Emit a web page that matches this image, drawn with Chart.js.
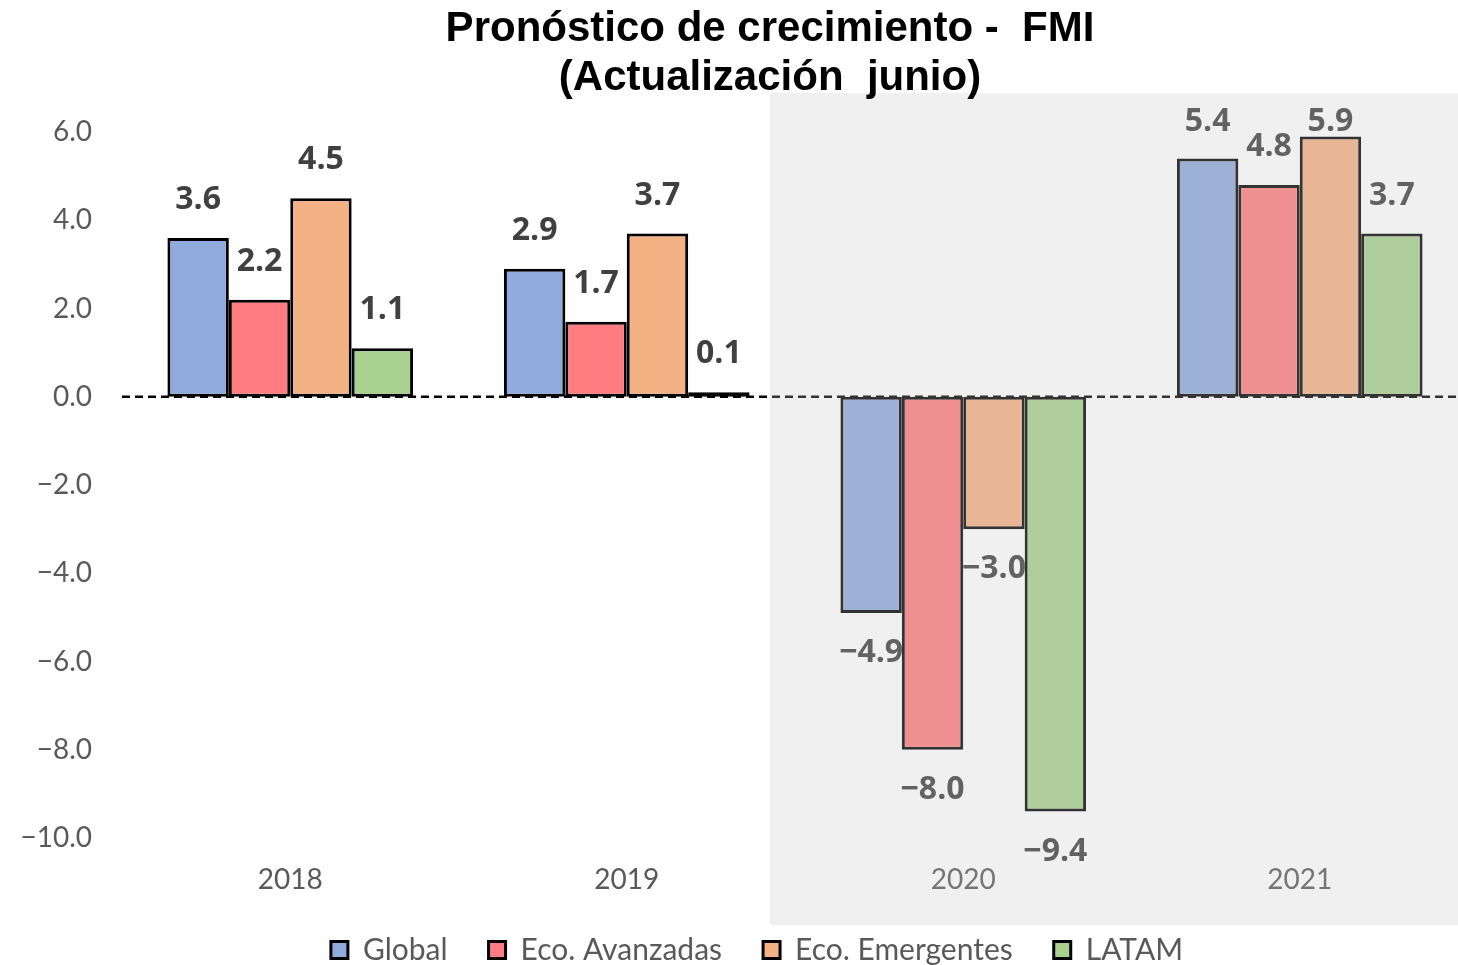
<!DOCTYPE html>
<html>
<head>
<meta charset="utf-8">
<script src="https://cdn.jsdelivr.net/npm/chart.js@4.4.0/dist/chart.umd.min.js"></script>
<style>
  html, body { margin: 0; padding: 0; background: #fff; overflow: hidden; }
  #wrap { width: 1458px; height: 965px; overflow: hidden; }
</style>
</head>
<body>
<div id="wrap"><canvas id="chart" width="1468" height="965"></canvas></div>
<script>
// datos
const years = ["2018", "2019", "2020", "2021"];
const global = [3.6, 2.9, -4.9, 5.4];
const avanzadas = [2.2, 1.7, -8.0, 4.8];
const emergentes = [4.5, 3.7, -3.0, 5.9];
const latam = [1.1, 0.1, -9.4, 3.7];
const yTicks = [-10, -8, -6, -4, -2, 0, 2, 4, 6];

const titleLines = ["Pronóstico de crecimiento -  FMI", "(Actualización  junio)"];

// formato con signo menos tipográfico
function fmt(v) {
    return (v < 0 ? "\u2212" : "") + Math.abs(v).toFixed(1);
}

// línea de cero punteada
const zeroLine = {
    id: "zeroLine",
    beforeDatasetsDraw(chart) {
        const { ctx, chartArea, scales } = chart;
        const y = scales.y.getPixelForValue(0);
        ctx.save();
        ctx.strokeStyle = "#000";
        ctx.lineWidth = 2.5;
        ctx.setLineDash([8, 5]);
        ctx.beginPath();
        ctx.moveTo(chartArea.left, y);
        ctx.lineTo(chartArea.right, y);
        ctx.stroke();
        ctx.restore();
    }
};

// etiquetas de valores
const valueLabels = {
    id: "valueLabels",
    afterDatasetsDraw(chart) {
        const ctx = chart.ctx;
        ctx.save();
        ctx.font = "bold 32px 'Open Sans'";
        ctx.fillStyle = "#404040";
        ctx.textAlign = "center";
        ctx.textBaseline = "middle";
        chart.data.datasets.forEach((ds, i) => {
            chart.getDatasetMeta(i).data.forEach((bar, j) => {
                const v = ds.data[j];
                let y = v >= 0 ? Math.max(bar.y - 38, 122) : bar.y + 40;
                ctx.fillText(fmt(v), bar.x, y);
            });
        });
        ctx.restore();
    }
};

// mover la leyenda un poco a la derecha
const legendShift = {
    id: "legendShift",
    afterLayout(chart) {
        chart.legend.left += 23;
        chart.legend.right += 23;
    }
};

// zona sombreada (proyecciones) y título
const overlay = {
    id: "overlay",
    afterDraw(chart) {
        const ctx = chart.ctx;
        ctx.save();
        ctx.fillStyle = "rgba(197,197,197,0.26)";
        ctx.fillRect(770, 93, chart.width - 770, 925 - 93);
        ctx.fillStyle = "#000";
        ctx.font = "bold 42px 'Liberation Sans'";
        ctx.textAlign = "center";
        ctx.textBaseline = "alphabetic";
        ctx.fillText(titleLines[0], 770, 41);
        ctx.fillText(titleLines[1], 770, 90);
        ctx.restore();
    }
};

function makeSet(label, data, color) {
    return {
        label: label,
        data: data,
        backgroundColor: color,
        borderColor: "#000",
        borderWidth: 3,
        borderSkipped: false,
        categoryPercentage: 0.73,
        barPercentage: 1.0
    };
}

new Chart(document.getElementById("chart"), {
    type: "bar",
    data: {
        labels: years,
        datasets: [
            makeSet("Global", global, "#8faadc"),
            makeSet("Eco. Avanzadas", avanzadas, "#ff7c80"),
            makeSet("Eco. Emergentes", emergentes, "#f4b183"),
            makeSet("LATAM", latam, "#a9d18e")
        ]
    },
    options: {
        responsive: false,
        animation: false,
        layout: { padding: { top: 132, left: 0, right: 0, bottom: -10 } },
        scales: {
            x: {
                grid: { display: false, drawTicks: false },
                border: { display: false },
                ticks: { color: "#595959", font: { family: "Lato", size: 28 }, padding: 25 },
                afterFit(scale) { scale.height = 56; }
            },
            y: {
                min: -10,
                max: 6,
                afterBuildTicks(scale) { scale.ticks = yTicks.map(v => ({ value: v })); },
                grid: { display: false, drawTicks: false },
                border: { display: false },
                ticks: {
                    color: "#595959",
                    font: { family: "Lato", size: 28 },
                    padding: 30,
                    callback: v => fmt(v)
                },
                afterFit(scale) { scale.width = 122; }
            }
        },
        plugins: {
            legend: {
                position: "bottom",
                labels: {
                    color: "#595959",
                    font: { family: "Lato", size: 30 },
                    boxWidth: 17,
                    boxHeight: 17,
                    padding: 41
                }
            },
            title: { display: false },
            tooltip: { enabled: false }
        }
    },
    plugins: [zeroLine, valueLabels, legendShift, overlay]
});
</script>
</body>
</html>
